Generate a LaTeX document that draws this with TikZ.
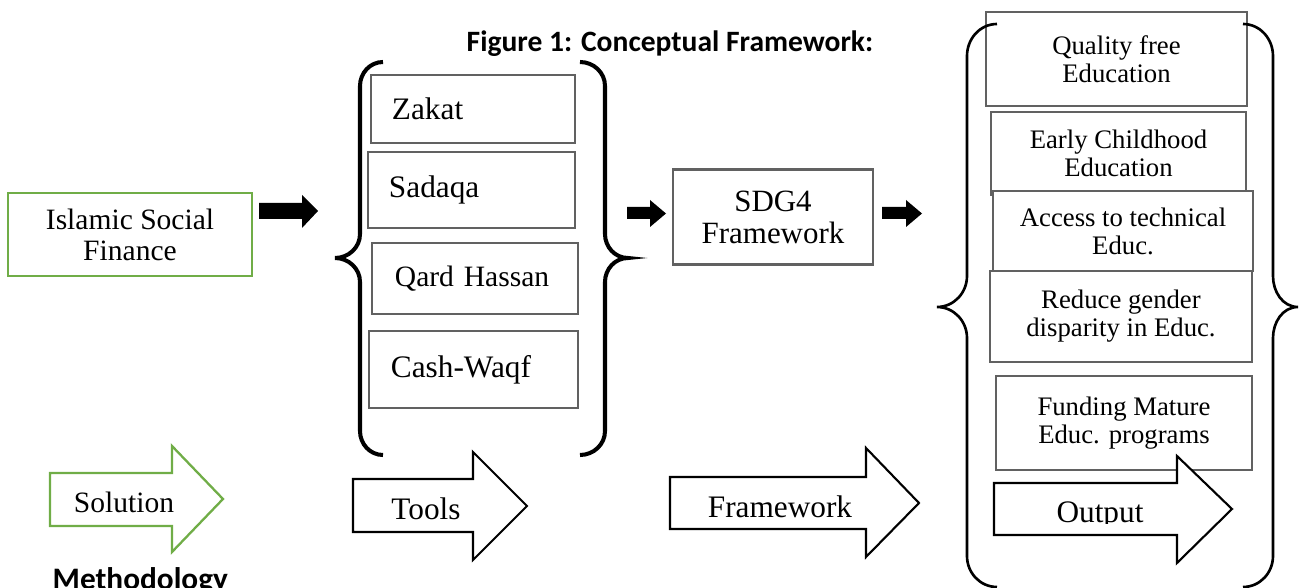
\documentclass[tikz,border=0pt]{standalone}
\usepackage{fontspec}
\setmainfont{Liberation Serif}
\newfontfamily\calib{Carlito}
\definecolor{offgreen}{HTML}{70AD47}
\begin{document}
\begin{tikzpicture}[x=0.01cm,y=-0.01cm]
\useasboundingbox (0,0) rectangle (1299,588);
\tikzset{
  gbox/.style={draw=black!62, line width=0.6pt, fill=white, inner sep=0pt, align=center},
  lbox/.style={gbox, align=left},
  greenbox/.style={draw=offgreen, line width=0.7pt, fill=white, inner sep=0pt, align=center},
  fa/.style={font=\fontsize{8.4pt}{8.8pt}\selectfont},
  fb/.style={font=\fontsize{8.9pt}{9pt}\selectfont},
  fc/.style={font=\fontsize{7.6pt}{8pt}\selectfont},
  blockarrow/.style={draw=black, line width=0.6pt, fill=white, line join=miter},
  greenarrow/.style={draw=offgreen, line width=0.65pt, fill=white, line join=miter},
  solidarrow/.style={fill=black},
  bracel/.style={draw=black, line width=1.15pt},
  bracer/.style={draw=black, line width=0.75pt},
  heading/.style={font=\calib\bfseries\fontsize{8.4pt}{9pt}\selectfont, inner sep=0pt}
}

% title
\node[heading] (title) at (670,44) {Figure 1: Conceptual Framework:};
\node[heading, font=\calib\bfseries\fontsize{8.9pt}{9pt}\selectfont, anchor=base west] (meth) at (52,590) {Methodology};

% Islamic social finance
\node[greenbox, fa, minimum width=2.44cm, minimum height=0.83cm] (isf) at (130,234.5) {Islamic Social\\Finance};

% tools boxes
\node[lbox, fb, minimum width=2.04cm, minimum height=0.68cm, text width=1.62cm, inner xsep=0.21cm] (zakat) at (473,109) {Zakat};
\node[lbox, fb, minimum width=2.07cm, minimum height=0.76cm, text width=1.65cm, inner xsep=0.21cm] (sadaqa) at (471.5,190) {Sadaqa};
\node[lbox, fa, minimum width=2.06cm, minimum height=0.71cm, text width=1.60cm, inner xsep=0.23cm] (qard) at (475,278.5) {Qard Hassan};
\node[lbox, fb, minimum width=2.09cm, minimum height=0.77cm, text width=1.65cm, inner xsep=0.22cm] (waqf) at (473.5,369.5) {Cash-Waqf};

% SDG4
\node[gbox, font=\fontsize{8.8pt}{9.1pt}\selectfont, minimum width=2.00cm, minimum height=0.95cm] (sdg) at (773,217) {SDG4\\Framework};

% output boxes
\node[gbox, fc, minimum width=2.61cm, minimum height=0.94cm] (qual) at (1116.5,59) {Quality free\\Education};
\node[gbox, fc, minimum width=2.55cm, minimum height=0.83cm] (early) at (1118.5,153.5) {Early Childhood\\Education};
\node[gbox, fc, minimum width=2.60cm, minimum height=0.80cm] (tech) at (1123,231) {Access to technical\\Educ.};
\node[gbox, fc, minimum width=2.62cm, minimum height=0.91cm] (gender) at (1121,316.5) {Reduce gender\\disparity in Educ.};
\node[gbox, fc, minimum width=2.56cm, minimum height=0.94cm] (fund) at (1124,423) {Funding Mature\\Educ. programs};

% solid small arrows
\fill[solidarrow] (259,203) -- (302,203) -- (302,195) -- (318,211) -- (302,228) -- (302,219) -- (259,219) -- cycle;
\fill[solidarrow] (627,207) -- (650,207) -- (650,200) -- (666,213.5) -- (650,227) -- (650,219) -- (627,219) -- cycle;
\fill[solidarrow] (882,207) -- (906,207) -- (906,200) -- (922,213.5) -- (906,227) -- (906,219) -- (882,219) -- cycle;

% outlined block arrows
\draw[greenarrow] (50,473) -- (172,473) -- (172,446) -- (223,499) -- (172,552) -- (172,526) -- (50,526) -- cycle;
\node[fa, anchor=base] (sol) at (124,512) {Solution};

\draw[blockarrow] (353,479) -- (473,479) -- (473,452) -- (527,506) -- (473,560) -- (473,532) -- (353,532) -- cycle;
\node[fb, anchor=base] (tools) at (426,520) {Tools};

\draw[blockarrow] (670,477) -- (866,477) -- (866,448) -- (919,503) -- (866,557) -- (866,529) -- (670,529) -- cycle;
\node[fb, anchor=base] (fw) at (780,518) {Framework};

\draw[blockarrow] (994,483) -- (1177,483) -- (1177,456) -- (1232,509) -- (1177,563) -- (1177,535) -- (994,535) -- cycle;
\begin{scope}
\clip (994,485) rectangle (1176,524);
\node[fb, anchor=base] (out) at (1100,522) {Output};
\end{scope}

% braces, tools group
\draw[bracel] (383,62) to[out=180,in=90] (360,86) -- (360,234) to[out=270,in=0] (335,258) to[out=0,in=90] (360,282) -- (360,431) to[out=270,in=180] (383,455);
\draw[bracel] (580,62) to[out=0,in=90] (605,86) -- (605,234) to[out=270,in=180] (628,258) to[out=180,in=90] (605,282) -- (605,431) to[out=270,in=0] (580,455);

% braces, output group
\draw[bracer] (997,24) to[out=180,in=90] (967,56) -- (967,276) to[out=270,in=0] (937,307) to[out=0,in=90] (967,338) -- (967,556) to[out=270,in=180] (997,587);
\draw[bracer] (1243,24) to[out=0,in=90] (1273,56) -- (1273,276) to[out=270,in=180] (1298,307) to[out=180,in=90] (1273,338) -- (1273,556) to[out=270,in=0] (1243,587);
\end{tikzpicture}
\end{document}
